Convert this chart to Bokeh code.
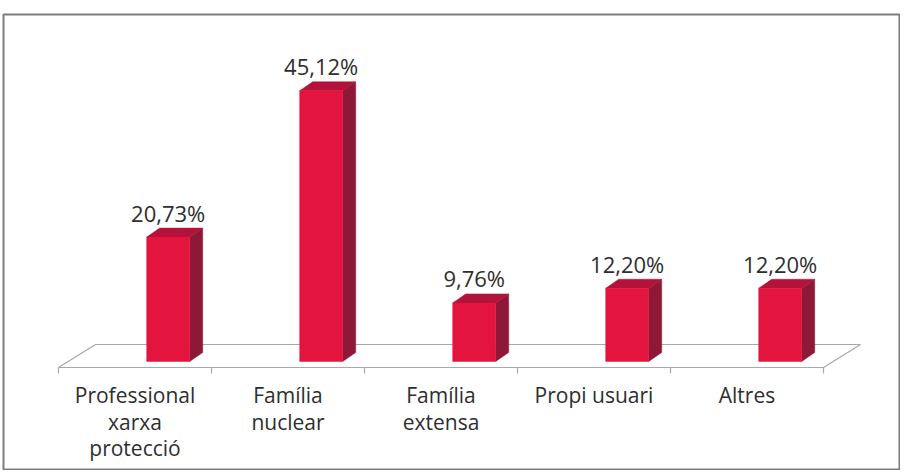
from bokeh.plotting import figure
from bokeh.models import Range1d
from bokeh.core.properties import value
from bokeh.embed import file_html
from bokeh.resources import INLINE

# ---- data ----
categories = ["Professional\nxarxa\nprotecció", "Família\nnuclear", "Família\nextensa", "Propi usuari", "Altres"]
values = [20.73, 45.12, 9.76, 12.20, 12.20]
value_labels = ["20,73%", "45,12%", "9,76%", "12,20%", "12,20%"]

# ---- style constants (3D look) ----
OFF = 0.217      # bar front face offset from category centre (category units)
W = 0.281        # bar width
DX, DY = 0.085, 1.5   # depth offset (x units, % units)
FLOOR_FRONT, FLOOR_BACK, FLOOR_SHIFT = -1.0, 2.83, 0.242
TICK_LEN = 1.0
LABEL_GAP = 4.1

FRONT = "#E3153E"
SIDE = "#8E1838"
TOP = "#B3123A"
GRID = "#A8A8A8"
TEXT = "#2e2e2e"

n = len(values)
xc = [i + 0.5 for i in range(n)]
fc = [c + OFF for c in xc]
left = [c - W / 2 for c in fc]
right = [c + W / 2 for c in fc]

p = figure(width=900, height=470,
           x_range=Range1d(-0.3595, 5.4967), y_range=Range1d(-18.17, 57.83),
           x_axis_location=None, y_axis_location=None,
           output_backend="svg", toolbar_location=None,
           min_border_left=3, min_border_right=1, min_border_top=14, min_border_bottom=0)
p.grid.visible = False
p.outline_line_color = "#7d7d7d"
p.outline_line_width = 2
p.background_fill_color = "white"
p.border_fill_color = "white"

# floor
p.patch([0, n, n + FLOOR_SHIFT, FLOOR_SHIFT],
        [FLOOR_FRONT, FLOOR_FRONT, FLOOR_BACK, FLOOR_BACK],
        fill_color="white", line_color=GRID, line_width=1.2)
# ticks
ticks = list(range(n + 1))
p.segment(x0=ticks, y0=[FLOOR_FRONT] * (n + 1), x1=ticks, y1=[FLOOR_FRONT - TICK_LEN] * (n + 1),
          line_color=GRID, line_width=1.2)

# bars: side, top, front
p.patches([[r, r + DX, r + DX, r] for r in right],
          [[0, DY, v + DY, v] for v in values],
          fill_color=SIDE, line_color=SIDE, line_width=0.5)
p.patches([[l, r, r + DX, l + DX] for l, r in zip(left, right)],
          [[v, v, v + DY, v + DY] for v in values],
          fill_color=TOP, line_color=TOP, line_width=0.5)
p.quad(left=left, right=right, bottom=0, top=values,
       fill_color=FRONT, line_color=FRONT, line_width=0.5)

# value labels
p.text(x=fc, y=[v + LABEL_GAP for v in values], text=value_labels,
       text_align="center", text_baseline="alphabetic",
       text_font=value("Open Sans"), text_font_size="22px", text_color=TEXT)

# category labels
p.text(x=xc, y=[-3.3] * n, text=categories,
       text_align="center", text_baseline="top", text_line_height=0.94,
       text_font=value("Open Sans"), text_font_size="21px", text_color=TEXT)

open("out.html", "w").write(file_html(p, INLINE))
